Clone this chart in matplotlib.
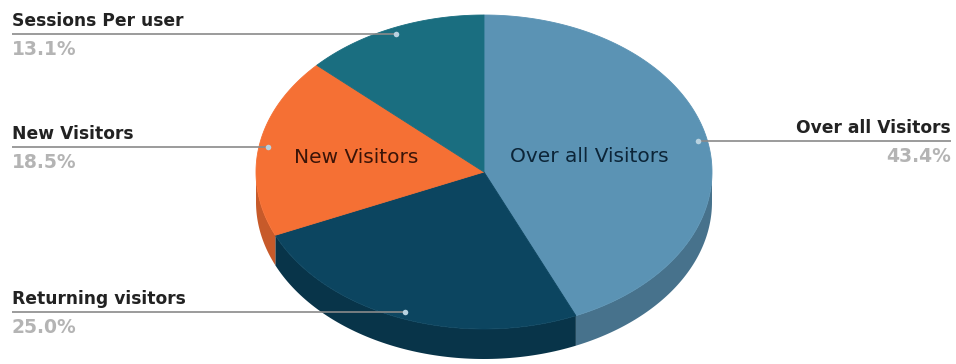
import numpy as np
import matplotlib.pyplot as plt

# slice data, clockwise from 12 o'clock
labels = ["Over all Visitors", "Returning visitors", "New Visitors", "Sessions Per user"]
values = [43.4, 25.0, 18.5, 13.1]
top_colors = ["#5b93b4", "#0c4560", "#f57034", "#1a6e80"]
side_colors = ["#47728c", "#083449", "#c75a2a", "#135663"]
# labels drawn inside the pie: text colour and radius fraction
inner_labels = {"Over all Visitors": ("#0c2538", 0.47), "New Visitors": ("#3a1408", 0.57)}

# ellipse geometry (pixels)
cx, cy = 484, 172
a, b = 228, 157
depth = 30


def rim(theta_deg, r=1.0):
    t = np.radians(theta_deg)
    return cx + a * r * np.sin(t), cy - b * r * np.cos(t)


def main():
    fig = plt.figure(figsize=(9.56, 3.64), dpi=100)
    ax = fig.add_axes([0, 0, 1, 1])
    ax.set_xlim(0, 956)
    ax.set_ylim(364, 0)
    ax.axis("off")

    total = sum(values)
    bounds = np.concatenate([[0], np.cumsum(values) / total * 360])

    # side walls (front half only: 90..270 deg)
    for i in range(len(values)):
        t1, t2 = max(bounds[i], 90), min(bounds[i + 1], 270)
        if t2 <= t1:
            continue
        th = np.linspace(t1, t2, 80)
        x, y = rim(th)
        xs = np.concatenate([x, x[::-1]])
        ys = np.concatenate([y, y[::-1] + depth])
        ax.fill(xs, ys, color=side_colors[i], lw=0)

    # top surface
    for i in range(len(values)):
        th = np.linspace(bounds[i], bounds[i + 1], 120)
        x, y = rim(th)
        ax.fill(np.concatenate([[cx], x]), np.concatenate([[cy], y]),
                color=top_colors[i], lw=0.6, ec=top_colors[i])

    # inner labels
    for i, lab in enumerate(labels):
        if lab in inner_labels:
            col, r = inner_labels[lab]
            mid = (bounds[i] + bounds[i + 1]) / 2
            x, y = rim(mid, r)
            ax.text(x, y, lab, fontsize=14.5, color=col,
                    ha="center", va="center", family="DejaVu Sans")

    # outer labels with leader lines
    for i, lab in enumerate(labels):
        mid = (bounds[i] + bounds[i + 1]) / 2
        px, py = rim(mid, 0.96)
        if px > cx:
            x0, x1, tx, ha = px, 951, 951, "right"
        else:
            x0, x1, tx, ha = 12, px, 12, "left"
        ax.plot([x0, x1], [py, py], color="#8a8a8a", lw=1.2,
                solid_capstyle="butt")
        ax.plot(px, py, "o", ms=4, color="#b8d2e0", mec="none")
        ax.text(tx, py - 8, lab, fontsize=12.3, fontweight="bold", color="#222222",
                ha=ha, va="baseline", family="DejaVu Sans")
        ax.text(tx, py + 6, f"{values[i]:.1f}%", fontsize=13.5, fontweight="bold",
                color="#b4b4b4", ha=ha, va="top", family="DejaVu Sans")

    fig.savefig("out.png", dpi=100)


if __name__ == "__main__":
    main()
